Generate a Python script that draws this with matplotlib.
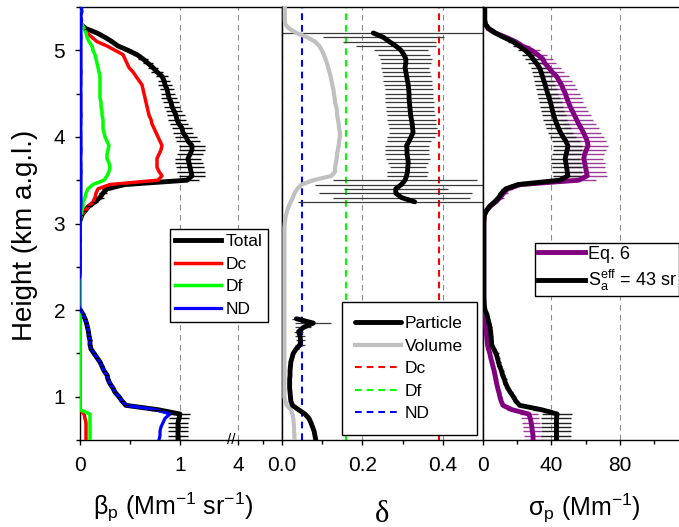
import numpy as np
import matplotlib
matplotlib.use("Agg")
import matplotlib.pyplot as plt

nan = np.nan

plt.rcParams['font.family'] = ['Liberation Sans', 'DejaVu Sans']
plt.rcParams['mathtext.fontset'] = 'custom'
plt.rcParams['mathtext.rm'] = 'Liberation Sans'
plt.rcParams['mathtext.it'] = 'Liberation Sans:italic'
plt.rcParams['mathtext.bf'] = 'Liberation Sans:bold'
plt.rcParams['mathtext.default'] = 'regular'

# ---------------- data (height in km a.g.l.) ----------------
height = [0.50, 0.55, 0.60, 0.65, 0.70, 0.75, 0.80, 0.85, 0.90, 0.95,
          1.00, 1.05, 1.10, 1.15, 1.20, 1.25, 1.30, 1.35, 1.40, 1.45,
          1.50, 1.55, 1.60, 1.65, 1.70, 1.75, 1.80, 1.85, 1.90, 1.95,
          2.00, 2.05, 2.10, 2.15, 2.20, 2.25, 2.30, 2.35, 2.40, 2.45,
          2.50, 2.55, 2.60, 2.65, 2.70, 2.75, 2.80, 2.85, 2.90, 2.95,
          3.00, 3.05, 3.10, 3.15, 3.20, 3.25, 3.30, 3.35, 3.40, 3.45,
          3.50, 3.55, 3.60, 3.65, 3.70, 3.75, 3.80, 3.85, 3.90, 3.95,
          4.00, 4.05, 4.10, 4.15, 4.20, 4.25, 4.30, 4.35, 4.40, 4.45,
          4.50, 4.55, 4.60, 4.65, 4.70, 4.75, 4.80, 4.85, 4.90, 4.95,
          5.00, 5.05, 5.10, 5.15, 5.20, 5.25, 5.30, 5.35, 5.40, 5.45,
          5.50]

# backscatter coefficient (Mm-1 sr-1)
beta_total = [0.98, 0.98, 0.98, 0.98, 0.98, 0.99, 1.00, 0.78, 0.46, 0.42,
              0.39, 0.35, 0.33, 0.30, 0.28, 0.27, 0.24, 0.22, 0.20, 0.17,
              0.14, 0.11, 0.10, 0.10, 0.09, 0.085, 0.075, 0.065, 0.05, 0.03,
              0.005, nan, nan, nan, nan, nan, nan, nan, nan, nan,
              nan, nan, nan, nan, nan, nan, nan, nan, nan, nan,
              nan, 0.005, 0.02, 0.05, 0.09, 0.15, 0.20, 0.23, 0.27, 0.45,
              1.07, 1.12, 1.11, 1.10, 1.09, 1.08, 1.10, 1.12, 1.12, 1.08,
              1.06, 1.03, 1.02, 0.99, 0.97, 0.96, 0.94, 0.92, 0.91, 0.89,
              0.88, 0.87, 0.85, 0.84, 0.82, 0.77, 0.73, 0.68, 0.63, 0.57,
              0.48, 0.38, 0.32, 0.25, 0.17, 0.06, 0.005, nan, nan, nan,
              nan]
beta_total_err = [0.10, 0.10, 0.10, 0.10, 0.10, 0.10, 0.10, 0.08, 0.03, 0.02,
                  0.02, 0.02, 0.02, 0.02, 0.02, 0.02, 0.02, 0.02, 0.02, 0.02,
                  0.02, 0.02, 0.02, 0.02, 0.02, 0.02, 0.02, 0.02, 0.02, 0.02,
                  0.01, 0, 0, 0, 0, 0, 0, 0, 0, 0,
                  0, 0, 0, 0, 0, 0, 0, 0, 0, 0,
                  0, 0.01, 0.01, 0.02, 0.03, 0.03, 0.04, 0.04, 0.05, 0.08,
                  0.12, 0.13, 0.14, 0.14, 0.14, 0.13, 0.13, 0.13, 0.13, 0.12,
                  0.11, 0.10, 0.10, 0.09, 0.09, 0.09, 0.08, 0.08, 0.08, 0.08,
                  0.07, 0.07, 0.07, 0.06, 0.06, 0.06, 0.05, 0.05, 0.05, 0.04,
                  0.04, 0.03, 0.03, 0.03, 0.02, 0.02, 0.01, 0, 0, 0,
                  0]
beta_dc = [0.06, 0.06, 0.06, 0.06, 0.06, 0.05, 0.04, 0.0, 0.0, 0.0,
           0.0, 0.0, 0.0, 0.0, 0.0, 0.0, 0.0, 0.0, 0.0, 0.0,
           0.0, 0.0, 0.0, 0.0, 0.0, 0.0, 0.0, 0.0, 0.0, 0.0,
           0.0, 0.0, 0.0, 0.0, 0.0, 0.0, 0.0, 0.0, 0.0, 0.0,
           0.0, 0.0, 0.0, 0.0, 0.0, 0.0, 0.0, 0.0, 0.0, 0.0,
           0.0, 0.0, 0.02, 0.05, 0.09, 0.13, 0.15, 0.16, 0.18, 0.30,
           0.78, 0.82, 0.79, 0.77, 0.77, 0.77, 0.79, 0.81, 0.82, 0.80,
           0.78, 0.76, 0.74, 0.72, 0.71, 0.69, 0.68, 0.67, 0.66, 0.65,
           0.64, 0.63, 0.62, 0.59, 0.56, 0.53, 0.49, 0.47, 0.45, 0.43,
           0.35, 0.27, 0.17, 0.12, 0.07, 0.04, 0.0, 0.0, 0.0, 0.0,
           0.0]
beta_df = [0.10, 0.10, 0.10, 0.10, 0.10, 0.10, 0.10, 0.0, 0.0, 0.0,
           0.0, 0.0, 0.0, 0.0, 0.0, 0.0, 0.0, 0.0, 0.0, 0.0,
           0.0, 0.0, 0.0, 0.0, 0.0, 0.0, 0.0, 0.0, 0.0, 0.0,
           0.0, 0.0, 0.0, 0.0, 0.0, 0.0, 0.0, 0.0, 0.0, 0.0,
           0.0, 0.0, 0.0, 0.0, 0.0, 0.0, 0.0, 0.0, 0.0, 0.0,
           0.0, 0.005, 0.01, 0.02, 0.03, 0.03, 0.05, 0.06, 0.08, 0.13,
           0.24, 0.27, 0.29, 0.30, 0.29, 0.27, 0.27, 0.28, 0.29, 0.27,
           0.25, 0.24, 0.23, 0.23, 0.23, 0.22, 0.22, 0.21, 0.21, 0.20,
           0.20, 0.20, 0.20, 0.20, 0.20, 0.19, 0.18, 0.17, 0.16, 0.15,
           0.13, 0.12, 0.09, 0.07, 0.06, 0.04, 0.02, 0.0, 0.0, 0.0,
           0.0]
beta_nd = [0.79, 0.80, 0.80, 0.81, 0.83, 0.85, 0.90, 0.76, 0.46, 0.42,
           0.39, 0.35, 0.33, 0.30, 0.28, 0.27, 0.24, 0.22, 0.20, 0.17,
           0.14, 0.11, 0.10, 0.10, 0.09, 0.085, 0.075, 0.065, 0.05, 0.03,
           0.005, -0.01, -0.01, -0.01, -0.01, -0.01, -0.01, -0.01, 0.0, 0.003,
           0.003, 0.002, 0.004, 0.003, 0.003, 0.002, 0.004, 0.003, 0.003, 0.003,
           0.003, 0.003, 0.003, 0.005, 0.008, 0.01, 0.01, 0.01, 0.01, 0.01,
           0.01, 0.01, 0.012, 0.01, 0.01, 0.008, 0.01, 0.012, 0.01, 0.01,
           0.01, 0.01, 0.008, 0.01, 0.01, 0.012, 0.01, 0.01, 0.01, 0.01,
           0.01, 0.008, 0.01, 0.01, 0.01, 0.012, 0.01, 0.01, 0.01, 0.01,
           0.01, 0.01, 0.01, 0.012, 0.01, 0.008, 0.012, 0.015, 0.01, 0.02,
           0.012]

# depolarization ratio
delta_particle = [0.084, 0.082, 0.080, 0.076, 0.072, 0.067, 0.057, 0.041, 0.026, 0.022,
                  0.021, 0.020, 0.019, 0.019, 0.019, 0.020, 0.020, 0.021, 0.022, 0.025,
                  0.028, 0.035, 0.045, 0.046, 0.045, 0.041, 0.053, 0.078, 0.036, nan,
                  nan, nan, nan, nan, nan, nan, nan, nan, nan, nan,
                  nan, nan, nan, nan, nan, nan, nan, nan, nan, nan,
                  nan, nan, nan, nan, nan, 0.330, 0.297, 0.283, 0.283, 0.297,
                  0.306, 0.310, 0.312, 0.313, 0.314, 0.313, 0.311, 0.311, 0.310, 0.316,
                  0.321, 0.326, 0.325, 0.324, 0.322, 0.320, 0.319, 0.318, 0.317, 0.316,
                  0.316, 0.315, 0.314, 0.312, 0.310, 0.308, 0.306, 0.308, 0.308, 0.303,
                  0.296, 0.283, 0.267, 0.252, 0.227, nan, nan, nan, nan, nan,
                  nan]
delta_particle_err = [0.003, 0.003, 0.003, 0.003, 0.003, 0.003, 0.003, 0.003, 0.003, 0.003,
                      0.003, 0.003, 0.003, 0.003, 0.003, 0.003, 0.003, 0.003, 0.003, 0.003,
                      0.005, 0.008, 0.012, 0.012, 0.012, 0.012, 0.020, 0.045, 0.010, 0,
                      0, 0, 0, 0, 0, 0, 0, 0, 0, 0,
                      0, 0, 0, 0, 0, 0, 0, 0, 0, 0,
                      0, 0, 0, 0, 0, 0.29, 0.17, 0.19, 0.13, 0.215,
                      0.18, 0.05, 0.05, 0.045, 0.05, 0.055, 0.055, 0.055, 0.055, 0.055,
                      0.06, 0.06, 0.06, 0.06, 0.06, 0.06, 0.06, 0.06, 0.06, 0.06,
                      0.06, 0.06, 0.06, 0.06, 0.06, 0.06, 0.06, 0.062, 0.065, 0.065,
                      0.066, 0.10, 0.115, 0.15, 0.28, 0, 0, 0, 0, 0,
                      0]
delta_volume = [0.031, 0.031, 0.030, 0.030, 0.029, 0.028, 0.026, 0.022, 0.012, 0.008,
                0.006, 0.006, 0.006, 0.006, 0.006, 0.006, 0.006, 0.006, 0.006, 0.006,
                0.006, 0.006, 0.006, 0.006, 0.006, 0.006, 0.006, 0.006, 0.006, 0.006,
                0.006, 0.006, 0.006, 0.006, 0.006, 0.006, 0.006, 0.006, 0.006, 0.006,
                0.006, 0.006, 0.006, 0.006, 0.006, 0.006, 0.006, 0.006, 0.006, 0.006,
                0.007, 0.008, 0.010, 0.013, 0.017, 0.022, 0.027, 0.031, 0.038, 0.049,
                0.078, 0.123, 0.132, 0.132, 0.134, 0.136, 0.137, 0.139, 0.141, 0.142,
                0.144, 0.144, 0.142, 0.141, 0.139, 0.137, 0.137, 0.135, 0.132, 0.131,
                0.129, 0.128, 0.125, 0.123, 0.121, 0.118, 0.115, 0.112, 0.108, 0.104,
                0.099, 0.093, 0.082, 0.063, 0.036, 0.018, 0.008, 0.007, 0.007, 0.007,
                0.007]
ref_delta = [0.39, 0.16, 0.05]
ref_names = ['Dc', 'Df', 'ND']
ref_colors = ['#ff0000', '#00ff00', '#0000ff']

# extinction coefficient (Mm-1)
sigma_eq6 = [29.3, 29.3, 28.9, 28.6, 28.2, 27.7, 26.8, 17.0, 11.7, 10.6,
             9.9, 9.3, 8.6, 8.0, 7.5, 7.0, 6.5, 5.8, 5.2, 4.5,
             4.0, 3.2, 2.6, 2.4, 2.1, 1.9, 1.6, 1.4, 1.2, 1.0,
             0.8, 0.6, 0.5, 0.5, 0.5, 0.5, 0.5, 0.5, 0.5, 0.5,
             0.5, 0.5, 0.5, 0.5, 0.5, 0.5, 0.5, 0.5, 0.5, 0.5,
             0.5, 0.6, 0.9, 2.2, 4.3, 7.5, 10.0, 12.0, 14.5, 22.0,
             56.0, 61.0, 60.5, 60.0, 59.5, 59.0, 59.5, 60.5, 61.5, 61.0,
             60.0, 58.8, 57.5, 56.0, 54.8, 53.5, 52.3, 51.0, 50.0, 49.0,
             48.2, 47.0, 46.0, 44.5, 43.0, 40.5, 38.5, 36.2, 35.0, 32.0,
             28.5, 23.0, 19.0, 13.5, 7.0, 3.0, 1.4, 1.0, 1.0, 1.0,
             1.0]
sigma_eq6_err = [5.3, 5.3, 5.3, 5.3, 5.3, 5.3, 5.3, 3.0, 1.0, 1.0,
                 1.0, 1.0, 1.0, 1.0, 1.0, 1.0, 1.0, 1.0, 1.0, 1.0,
                 0.8, 0.8, 0.8, 0.8, 0.8, 0.8, 0.8, 0.6, 0.5, 0.4,
                 0.3, 0, 0, 0, 0, 0, 0, 0, 0, 0,
                 0, 0, 0, 0, 0, 0, 0, 0, 0, 0,
                 0, 0, 0.2, 0.5, 1.0, 1.5, 2.0, 2.5, 3.0, 5.0,
                 10.0, 11.7, 11.7, 11.7, 11.7, 11.5, 11.5, 11.5, 11.5, 11.0,
                 10.8, 10.5, 10.2, 10.0, 9.8, 9.5, 9.2, 9.0, 8.8, 8.8,
                 8.5, 8.2, 8.0, 7.8, 7.5, 7.2, 7.0, 6.5, 6.0, 5.5,
                 5.0, 4.5, 3.5, 2.5, 1.5, 1.0, 0.5, 0, 0, 0,
                 0]
sigma_sa = [43.0, 43.0, 43.0, 43.0, 43.0, 43.0, 43.4, 34.2, 21.5, 19.2,
            17.8, 16.0, 14.5, 13.3, 12.5, 11.5, 10.8, 9.8, 9.0, 8.4,
            7.6, 6.3, 5.1, 4.9, 4.7, 4.5, 4.1, 3.5, 2.9, 2.3,
            1.2, 0.8, 0.6, 0.5, 0.5, 0.5, 0.5, 0.5, 0.5, 0.5,
            0.5, 0.5, 0.5, 0.5, 0.5, 0.5, 0.5, 0.5, 0.5, 0.5,
            0.5, 0.6, 0.8, 2.0, 3.9, 6.8, 9.2, 10.9, 13.3, 20.5,
            45.0, 49.7, 49.3, 48.9, 48.5, 48.1, 48.7, 49.3, 49.7, 48.5,
            46.9, 45.4, 44.2, 43.2, 42.2, 41.4, 40.7, 40.1, 39.5, 38.7,
            37.9, 37.1, 36.4, 35.6, 34.8, 34.0, 33.0, 31.3, 29.3, 27.4,
            24.6, 21.1, 17.6, 12.1, 7.4, 3.5, 1.4, 1.0, 1.0, 1.0,
            1.0]
sigma_sa_err = [8.8, 8.8, 8.8, 8.8, 8.8, 8.8, 8.8, 5.0, 1.5, 1.5,
                1.5, 1.5, 1.5, 1.5, 1.5, 1.5, 1.5, 1.5, 1.5, 1.5,
                1.5, 1.2, 1.0, 1.0, 1.0, 1.0, 1.0, 1.0, 0.8, 0.6,
                0.3, 0, 0, 0, 0, 0, 0, 0, 0, 0,
                0, 0, 0, 0, 0, 0, 0, 0, 0, 0,
                0, 0, 0.2, 0.5, 1.0, 1.5, 2.0, 2.0, 2.5, 4.0,
                8.0, 8.8, 8.8, 8.8, 8.8, 8.5, 8.5, 8.5, 8.5, 8.0,
                7.8, 7.5, 7.5, 7.2, 7.0, 7.0, 6.8, 6.8, 6.5, 6.5,
                6.2, 6.0, 6.0, 5.8, 5.5, 5.5, 5.0, 5.0, 4.5, 4.5,
                4.0, 3.5, 3.0, 2.5, 1.5, 1.0, 0.5, 0, 0, 0,
                0]

beta_ticks = [0, 1, 4]
beta_ticklabels = ['0', '1', '4']
beta_minor = [0.5, 4.5]
delta_ticks = [0.0, 0.2, 0.4]
delta_ticklabels = ['0.0', '0.2', '0.4']
delta_minor = [0.1, 0.3]
sigma_ticks = [0, 40, 80]
sigma_ticklabels = ['0', '40', '80']
sigma_minor = [20, 60, 100]

H = np.array(height, dtype=float)

# ---------------- figure ----------------
W, Hpx = 679, 527
fig = plt.figure(figsize=(W / 100, Hpx / 100), dpi=100)
bot = (Hpx - 440) / Hpx
hgt = 433 / Hpx
ax1 = fig.add_axes([80 / W, bot, 202 / W, hgt])
ax2 = fig.add_axes([282 / W, bot, 201 / W, hgt])
ax3 = fig.add_axes([483 / W, bot, 205 / W, hgt])

# broken x axis for panel 1
_xp = [-10.0, 1.5, 3.84, 20.0]
_up = [-10.0, 1.5, 1.5001, 1.5001 + 0.5 * 16.16]


def fwd(x):
    return np.interp(x, _xp, _up)


def inv(u):
    return np.interp(u, _up, _xp)


ax1.set_xscale('function', functions=(fwd, inv))

grid_kw = dict(color='#8c8c8c', linewidth=0.8, linestyle=(0, (5, 4)))
for ax in (ax1, ax2, ax3):
    ax.set_ylim(0.5, 5.5)
    for sp in ax.spines.values():
        sp.set_linewidth(1.0)
    ax.tick_params(axis='both', which='major', direction='out', length=3.6,
                   width=1.0, labelsize=15)
    ax.tick_params(axis='both', which='minor', direction='out', length=2.8,
                   width=1.0)
    ax.tick_params(axis='x', which='major', pad=8)
    ax.grid(axis='x', which='major', **grid_kw)
    ax.set_axisbelow('line')

leg_kw = dict(frameon=True, fancybox=False, edgecolor='black',
              framealpha=1, handlelength=2.6, borderaxespad=0)

# ---- panel 1 ----
ax1.set_xlim(0, 4.88)
ax1.set_xticks(beta_ticks, labels=beta_ticklabels)
ax1.set_xticks(beta_minor, minor=True)
ax1.yaxis.set_major_locator(matplotlib.ticker.MultipleLocator(1))
ax1.yaxis.set_minor_locator(matplotlib.ticker.MultipleLocator(0.5))
ax1.tick_params(axis='y', which='major', pad=7)

ax1.plot(np.array(beta_total, float), H, color='k', lw=3.5, label='Total', zorder=3)
ax1.plot(np.array(beta_dc, float), H, color='#ff0000', lw=2.5, label='Dc', zorder=3.1)
ax1.plot(np.array(beta_df, float), H, color='#00ff00', lw=2.5, label='Df', zorder=3.2)
ax1.plot(np.array(beta_nd, float), H, color='#0000ff', lw=2.3, label='ND', zorder=3.3)
ax1.errorbar(np.array(beta_total, float), H, xerr=np.array(beta_total_err, float),
             fmt='none', ecolor='k', elinewidth=1.0, capsize=0, zorder=3.4)
ax1.text(0.751, 0.0, '//', transform=ax1.transAxes, ha='center', va='center',
         fontsize=11, clip_on=False)

leg1 = ax1.legend(loc='upper right', bbox_to_anchor=(0.93, 0.487), fontsize=12.5,
                  borderpad=0.3, handletextpad=0.3, labelspacing=0.42, **leg_kw)
leg1.get_frame().set_linewidth(1.0)

ax1.set_ylabel('Height (km a.g.l.)', fontsize=20)
ax1.yaxis.set_label_coords(-0.272, 0.473)
ax1.yaxis.label.set_va('center')
ax1.set_xlabel('β$_p$ (Mm$^{-1}$ sr$^{-1}$)', fontsize=18)
ax1.xaxis.set_label_coords(0.46, -0.155)
ax1.xaxis.label.set_va('center')

# ---- panel 2 ----
ax2.set_xlim(0, 0.5)
ax2.set_xticks(delta_ticks, labels=delta_ticklabels)
ax2.set_xticks(delta_minor, minor=True)
ax2.tick_params(axis='y', which='both', left=False, labelleft=False)
ref_handles = []
for val, name, col in zip(ref_delta, ref_names, ref_colors):
    ln = ax2.axvline(val, color=col, lw=1.5, dashes=(3.2, 2.4), zorder=1.8, label=name)
    ref_handles.append(ln)
ax2.errorbar(np.array(delta_particle, float), H, xerr=np.array(delta_particle_err, float),
             fmt='none', ecolor='#3a3a3a', elinewidth=0.9, capsize=0, zorder=2.5)
lv, = ax2.plot(np.array(delta_volume, float), H, color='#c0c0c0', lw=3.0,
               label='Volume', zorder=2.8)
lp, = ax2.plot(np.array(delta_particle, float), H, color='k', lw=3.5,
               label='Particle', zorder=3, solid_capstyle='round')
leg2 = ax2.legend(handles=[lp, lv] + ref_handles, loc='lower right',
                  bbox_to_anchor=(0.97, 0.0115), fontsize=12.5, borderpad=0.8,
                  handletextpad=0.25, labelspacing=0.42, **leg_kw)
leg2.get_frame().set_linewidth(1.0)
ax2.set_xlabel('δ', fontsize=22, family=['Liberation Serif', 'DejaVu Serif'])
ax2.xaxis.set_label_coords(0.5, -0.171)
ax2.xaxis.label.set_va('center')

# ---- panel 3 ----
ax3.set_xlim(0, 120)
ax3.set_xticks(sigma_ticks, labels=sigma_ticklabels)
ax3.set_xticks(sigma_minor, minor=True)
ax3.tick_params(axis='y', which='both', left=False, labelleft=False)
ax3.errorbar(np.array(sigma_eq6, float), H, xerr=np.array(sigma_eq6_err, float),
             fmt='none', ecolor='#9a3c9a', elinewidth=1.0, capsize=0, zorder=2.4)
ax3.errorbar(np.array(sigma_sa, float), H, xerr=np.array(sigma_sa_err, float),
             fmt='none', ecolor='#222222', elinewidth=1.0, capsize=0, zorder=2.5)
ax3.plot(np.array(sigma_eq6, float), H, color='#800080', lw=3.5, label='Eq. 6', zorder=3)
ax3.plot(np.array(sigma_sa, float), H, color='k', lw=3.5,
         label='S$_a^{eff}$ = 43 sr', zorder=3.1)
leg3 = ax3.legend(loc='upper left', bbox_to_anchor=(0.255, 0.455), fontsize=13,
                  borderpad=0.15, handletextpad=0.15, labelspacing=0.3, **leg_kw)
leg3.get_frame().set_linewidth(1.0)
ax3.set_xlabel('σ$_p$ (Mm$^{-1}$)', fontsize=18)
ax3.xaxis.set_label_coords(0.493, -0.157)
ax3.xaxis.label.set_va('center')

fig.savefig('out.png', dpi=100)
